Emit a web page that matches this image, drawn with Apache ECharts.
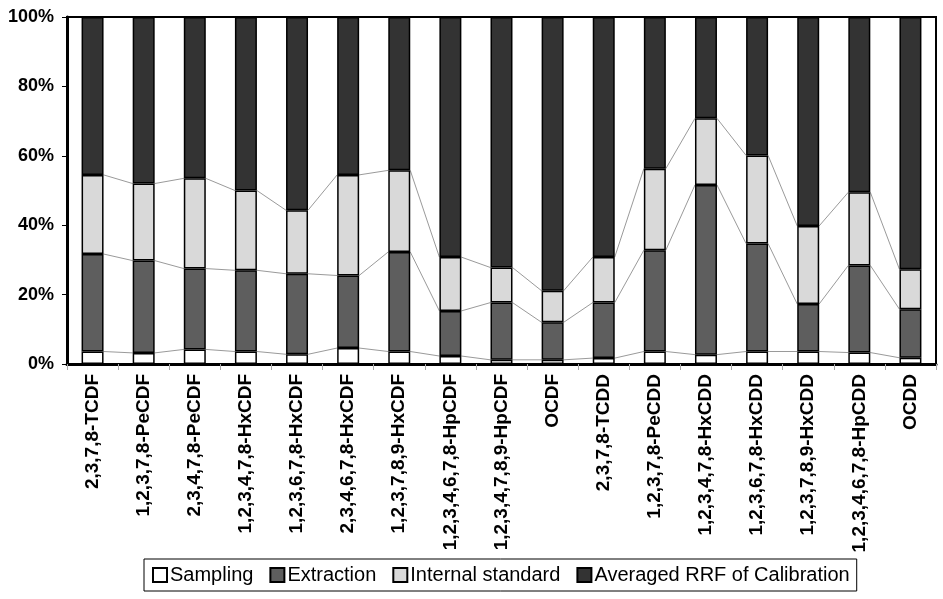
<!DOCTYPE html>
<html>
<head>
<meta charset="utf-8">
<script src="https://cdn.jsdelivr.net/npm/echarts@6/dist/echarts.min.js"></script>
<style>html,body{margin:0;padding:0;background:#fff;}#c{width:943px;height:599px;}</style>
</head>
<body>
<div id="c"></div>
<script>
var categories = ['2,3,7,8-TCDF','1,2,3,7,8-PeCDF','2,3,4,7,8-PeCDF','1,2,3,4,7,8-HxCDF','1,2,3,6,7,8-HxCDF','2,3,4,6,7,8-HxCDF','1,2,3,7,8,9-HxCDF','1,2,3,4,6,7,8-HpCDF','1,2,3,4,7,8,9-HpCDF','OCDF','2,3,7,8-TCDD','1,2,3,7,8-PeCDD','1,2,3,4,7,8-HxCDD','1,2,3,6,7,8-HxCDD','1,2,3,7,8,9-HxCDD','1,2,3,4,6,7,8-HpCDD','OCDD'];
var sampling = [3.6, 3.2, 4.2, 3.6, 2.8, 4.6, 3.6, 2.3, 1.2, 1.2, 1.7, 3.6, 2.7, 3.6, 3.6, 3.3, 1.8];
var extraction = [28.1, 26.6, 23.3, 23.4, 23.2, 20.9, 28.7, 13.0, 16.5, 10.8, 16.0, 29.2, 48.9, 31.1, 13.7, 25.1, 14.0];
var internalStandard = [22.8, 22.2, 26.0, 23.0, 18.3, 29.0, 23.5, 15.5, 10.1, 9.1, 13.1, 23.5, 19.2, 25.4, 22.5, 21.1, 11.5];
var averagedRRF = [45.5, 48.0, 46.5, 50.0, 55.7, 45.5, 44.2, 69.2, 72.2, 78.9, 69.2, 43.7, 29.2, 39.9, 60.2, 50.5, 72.7];
var yTicks = [0, 20, 40, 60, 80, 100];

var seriesNames = ['Sampling', 'Extraction', 'Internal standard', 'Averaged RRF of Calibration'];
var colors = ['#ffffff', '#5e5e5e', '#d9d9d9', '#333333'];
var stackData = [sampling, extraction, internalStandard, averagedRRF];
var BAR_FRAC = 0.43;

function cumulative(k) {
  return categories.map(function (_, i) {
    var s = 0;
    for (var j = 0; j <= k; j++) s += stackData[j][i];
    return s;
  });
}

var series = [];
stackData.forEach(function (d, k) {
  series.push({
    name: seriesNames[k], type: 'bar', stack: 'total', barWidth: (BAR_FRAC * 100) + '%',
    data: d,
    itemStyle: { color: colors[k], borderColor: '#000', borderWidth: 1.5 },
    emphasis: { disabled: true }
  });
});

[0, 1, 2].forEach(function (k) {
  var cum = cumulative(k);
  var segs = [];
  for (var i = 0; i < cum.length - 1; i++) segs.push([i, cum[i], cum[i + 1]]);
  series.push({
    type: 'custom', silent: true, z: 1,
    data: segs,
    renderItem: function (params, api) {
      var i = api.value(0);
      var p1 = api.coord([i, api.value(1)]);
      var p2 = api.coord([i + 1, api.value(2)]);
      var bw = api.size([1, 0])[0] * BAR_FRAC;
      return {
        type: 'line',
        shape: { x1: p1[0] + bw / 2, y1: p1[1], x2: p2[0] - bw / 2, y2: p2[1] },
        style: { stroke: '#9a9a9a', lineWidth: 1 }
      };
    }
  });
});

var chart = echarts.init(document.getElementById('c'), null, { renderer: 'canvas' });
chart.setOption({
  animation: false,
  backgroundColor: '#fff',
  textStyle: { fontFamily: 'Liberation Sans, Arial, sans-serif' },
  grid: { left: 67, right: 7, top: 17, bottom: 235, show: true, borderColor: '#000', borderWidth: 2, containLabel: false },
  legend: {
    data: seriesNames,
    left: 144, top: 559,
    orient: 'horizontal',
    icon: 'rect', itemWidth: 14, itemHeight: 14, itemGap: 16,
    padding: [6, 7, 6, 8],
    borderColor: '#000', borderWidth: 1,
    textStyle: { fontSize: 20, color: '#000', fontFamily: 'Liberation Sans, Arial, sans-serif', padding: [0, 0, 0, -2] }
  },
  xAxis: {
    type: 'category', data: categories,
    axisLine: { lineStyle: { color: '#000', width: 3 } },
    axisTick: { show: true, length: 6, lineStyle: { color: '#aaa' } },
    axisLabel: { rotate: 90, interval: 0, margin: 10, fontSize: 19, fontWeight: 'bold', color: '#000', fontFamily: 'Liberation Sans, Arial, sans-serif' }
  },
  yAxis: {
    type: 'value', min: yTicks[0], max: yTicks[yTicks.length - 1], interval: 20,
    axisLine: { show: true, lineStyle: { color: '#000', width: 3 } },
    axisTick: { show: true, length: 5, lineStyle: { color: '#000' } },
    splitLine: { show: false },
    axisLabel: { formatter: '{value}%', fontSize: 18, fontWeight: 'bold', color: '#000', margin: 13, fontFamily: 'Liberation Sans, Arial, sans-serif' }
  },
  series: series
});
</script>
</body>
</html>
